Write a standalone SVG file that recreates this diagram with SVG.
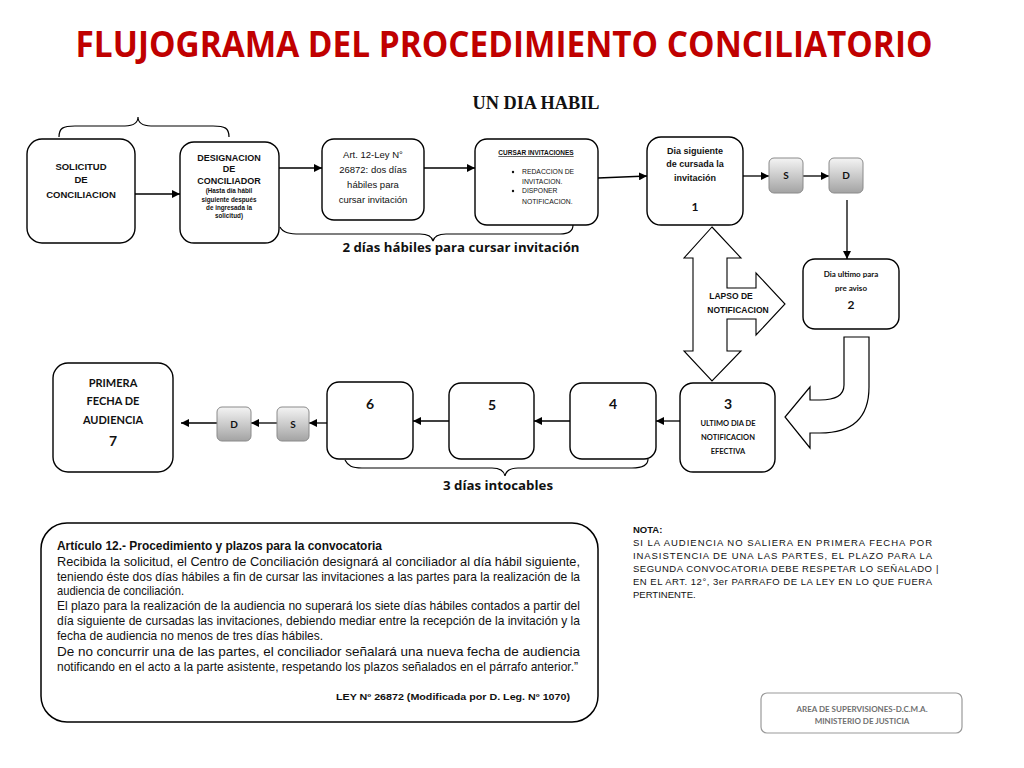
<svg xmlns="http://www.w3.org/2000/svg" width="1024" height="768" viewBox="0 0 1024 768">
<defs>
<style>
.bx{fill:#fff;stroke:#000;stroke-width:1.4}
.sd{fill:url(#g);stroke:#8a8a8a;stroke-width:1}
.ln{fill:none;stroke:#000;stroke-width:1.3}
.br{fill:none;stroke:#000;stroke-width:1.2}
.a{font-family:"Liberation Sans",Arial,sans-serif;font-weight:bold;fill:#111;text-anchor:middle}
.c{font-family:Lato,"Open Sans",sans-serif;font-weight:bold;fill:#111;text-anchor:middle}
.r{font-family:"Liberation Sans",Arial,sans-serif;fill:#111}
</style>
<linearGradient id="g" x1="0" y1="0" x2="0" y2="1"><stop offset="0" stop-color="#f4f4f4"/><stop offset="1" stop-color="#a3a3a3"/></linearGradient>
<marker id="ah" viewBox="0 0 10 10" refX="10" refY="5" markerWidth="8" markerHeight="8" markerUnits="userSpaceOnUse" orient="auto"><path d="M0,0 L10,5 L0,10 z" fill="#000"/></marker>
</defs>
<rect width="1024" height="768" fill="#fff"/>

<text x="504" y="57" text-anchor="middle" font-family="'Open Sans',sans-serif" font-weight="bold" font-size="35" fill="#C00000" textLength="857" lengthAdjust="spacingAndGlyphs">FLUJOGRAMA DEL PROCEDIMIENTO CONCILIATORIO</text>
<text x="536" y="109" text-anchor="middle" font-family="'Liberation Serif',serif" font-weight="bold" font-size="19" fill="#111" textLength="127" lengthAdjust="spacingAndGlyphs">UN DIA HABIL</text>

<g id="braces">
<path class="br" d="M59,137 C59,128 63,126 75,126 L125,126 C134,126 138,122 138,117 C138,122 142,126 151,126 L213,126 C225,126 229,128 229,137"/>
<path class="br" d="M280,227 C283,233 290,234 300,234 L420,234 C428,234 432,237 433,241 C434,237 438,234 446,234 L560,234 C570,234 573,230 573,225"/>
<path class="br" d="M345,460 C348,466 352,468 362,468 L492,468 C500,468 504,471 505,476 C506,471 510,468 518,468 L632,468 C642,468 648,465 648,459"/>
<text x="461" y="252" text-anchor="middle" font-family="'Open Sans',sans-serif" font-weight="bold" font-size="13" fill="#111" textLength="237" lengthAdjust="spacingAndGlyphs">2 días hábiles para cursar invitación</text>
<text x="498" y="490" text-anchor="middle" font-family="'Open Sans',sans-serif" font-weight="bold" font-size="13" fill="#111" textLength="110" lengthAdjust="spacingAndGlyphs">3 días intocables</text>
</g>

<g id="connectors">
<path class="ln" marker-end="url(#ah)" d="M135,194 L180,194"/>
<path class="ln" marker-end="url(#ah)" d="M279,168 L322,168"/>
<path class="ln" marker-end="url(#ah)" d="M424,168 L475,168"/>
<path class="ln" marker-end="url(#ah)" d="M598,178 L647,176"/>
<path class="ln" marker-end="url(#ah)" d="M743,176 L769,176"/>
<path class="ln" marker-end="url(#ah)" d="M803,176 L829,176"/>
<path class="ln" marker-end="url(#ah)" d="M847,200 L847,259"/>
<path class="ln" marker-end="url(#ah)" d="M680,421 L656,421"/>
<path class="ln" marker-end="url(#ah)" d="M570,421 L534,421"/>
<path class="ln" marker-end="url(#ah)" d="M449,421 L413,421"/>
<path class="ln" marker-end="url(#ah)" d="M327,423 L309,423"/>
<path class="ln" marker-end="url(#ah)" d="M277,423 L251,423"/>
<path class="ln" marker-end="url(#ah)" d="M217,423 L181,423"/>
</g>

<g id="n-solicitud">
<rect class="bx" x="27" y="139" width="108" height="104" rx="15"/>
<text class="a" font-size="9.5" x="81" y="170">SOLICITUD</text>
<text class="a" font-size="9.5" x="81" y="183">DE</text>
<text class="a" font-size="9.5" x="81" y="198">CONCILIACION</text>
</g>
<g id="n-designacion">
<rect class="bx" x="180" y="142" width="99" height="101" rx="14"/>
<text class="a" font-size="9" x="229" y="161">DESIGNACION</text>
<text class="a" font-size="9" x="229" y="172">DE</text>
<text class="a" font-size="9" x="229" y="184">CONCILIADOR</text>
<text class="a" font-size="6.3" x="229" y="193">(Hasta día hábil</text>
<text class="a" font-size="6.3" x="229" y="202">siguiente después</text>
<text class="a" font-size="6.3" x="229" y="210">de ingresada la</text>
<text class="a" font-size="6.3" x="229" y="218">solicitud)</text>
</g>
<g id="n-art12">
<rect class="bx" x="322" y="139" width="102" height="81" rx="12"/>
<text class="r" font-size="9.5" text-anchor="middle" x="373" y="158">Art. 12-Ley N°</text>
<text class="r" font-size="9.5" text-anchor="middle" x="373" y="173">26872: dos días</text>
<text class="r" font-size="9.5" text-anchor="middle" x="373" y="188">hábiles para</text>
<text class="r" font-size="9.5" text-anchor="middle" x="373" y="203">cursar invitación</text>
</g>
<g id="n-cursar">
<rect class="bx" x="475" y="139" width="123" height="86" rx="12"/>
<text class="a" font-size="6.5" x="536" y="155" text-decoration="underline">CURSAR INVITACIONES</text>
<circle cx="513" cy="172" r="1.2" fill="#111"/>
<text class="r" font-size="6.8" x="522" y="174">REDACCION DE</text>
<text class="r" font-size="6.8" x="522" y="184">INVITACION.</text>
<circle cx="513" cy="191" r="1.2" fill="#111"/>
<text class="r" font-size="6.8" x="522" y="193">DISPONER</text>
<text class="r" font-size="6.8" x="522" y="204">NOTIFICACION.</text>
</g>
<g id="n-1">
<rect class="bx" x="647" y="137" width="96" height="88" rx="14"/>
<text class="a" font-size="9" x="695" y="154">Dia siguiente</text>
<text class="a" font-size="9" x="695" y="167">de cursada la</text>
<text class="a" font-size="9" x="695" y="181">invitación</text>
<text class="c" font-size="12" x="695" y="211">1</text>
</g>
<g id="n-s1">
<rect class="sd" x="769" y="158" width="34" height="35" rx="5"/>
<text class="c" font-size="10" x="786" y="179">S</text>
</g>
<g id="n-d1">
<rect class="sd" x="829" y="158" width="34" height="35" rx="5"/>
<text class="c" font-size="10" x="846" y="179">D</text>
</g>
<g id="n-2">
<rect class="bx" x="803" y="259" width="96" height="70" rx="12"/>
<text class="c" font-size="8" x="851" y="277">Dia ultimo para</text>
<text class="c" font-size="8" x="851" y="291">pre aviso</text>
<text class="c" font-size="12" x="851" y="309">2</text>
</g>
<g id="n-lapso">
<path fill="#fff" stroke="#000" stroke-width="1.1" d="M712,227 L741,258 L727,258 L727,288 L756,288 L756,273 L785,304 L756,335 L756,319 L727,319 L727,351 L741,351 L712,381 L684,351 L693,351 L693,258 L684,258 Z"/>
<text class="a" font-size="8.5" x="731" y="299">LAPSO DE</text>
<text class="a" font-size="8.5" x="738" y="313">NOTIFICACION</text>
</g>
<g id="n-curve">
<path fill="#fff" stroke="#000" stroke-width="1.2" d="M844,337 L869,337 L869,387 Q869,433 820,433 L810,433 L810,448 L785,417 L810,387 L810,400 L820,400 Q844,400 844,385 Z"/>
</g>
<g id="n-3">
<rect class="bx" x="680" y="383" width="95" height="89" rx="13"/>
<text class="c" font-size="14" x="728" y="409">3</text>
<text class="c" font-size="7.5" x="728" y="426">ULTIMO DIA DE</text>
<text class="c" font-size="7.5" x="728" y="440">NOTIFICACION</text>
<text class="c" font-size="7.5" x="728" y="454">EFECTIVA</text>
</g>
<g id="n-4">
<rect class="bx" x="570" y="383" width="86" height="76" rx="12"/>
<text class="c" font-size="14" x="613" y="409">4</text>
</g>
<g id="n-5">
<rect class="bx" x="449" y="383" width="85" height="76" rx="12"/>
<text class="c" font-size="14" x="492" y="410">5</text>
</g>
<g id="n-6">
<rect class="bx" x="327" y="382" width="86" height="77" rx="12"/>
<text class="c" font-size="14" x="370" y="409">6</text>
</g>
<g id="n-s2">
<rect class="sd" x="277" y="407" width="32" height="34" rx="5"/>
<text class="c" font-size="10" x="293" y="428">S</text>
</g>
<g id="n-d2">
<rect class="sd" x="217" y="407" width="34" height="34" rx="5"/>
<text class="c" font-size="10" x="234" y="428">D</text>
</g>
<g id="n-7">
<rect class="bx" x="53" y="363" width="120" height="109" rx="15"/>
<text class="c" font-size="11" x="113" y="387">PRIMERA</text>
<text class="c" font-size="11" x="113" y="405">FECHA DE</text>
<text class="c" font-size="11" x="113" y="424">AUDIENCIA</text>
<text class="c" font-size="14" x="113" y="446">7</text>
</g>

<g id="n-articulo">
<rect x="41" y="523" width="557" height="199" rx="26" fill="#fff" stroke="#000" stroke-width="1.5"/>
<g class="r" font-size="13.5">
<text x="57" y="550" font-weight="bold" textLength="325" lengthAdjust="spacingAndGlyphs">Artículo 12.- Procedimiento y plazos para la convocatoria</text>
<text x="57" y="566" textLength="523" lengthAdjust="spacingAndGlyphs">Recibida la solicitud, el Centro de Conciliación designará al conciliador al día hábil siguiente,</text>
<text x="57" y="581" textLength="523" lengthAdjust="spacingAndGlyphs">teniendo éste dos días hábiles a fin de cursar las invitaciones a las partes para la realización de la</text>
<text x="57" y="595" textLength="127" lengthAdjust="spacingAndGlyphs">audiencia de conciliación.</text>
<text x="57" y="610" textLength="523" lengthAdjust="spacingAndGlyphs">El plazo para la realización de la audiencia no superará los siete días hábiles contados a partir del</text>
<text x="57" y="625" textLength="523" lengthAdjust="spacingAndGlyphs">día siguiente de cursadas las invitaciones, debiendo mediar entre la recepción de la invitación y la</text>
<text x="57" y="640" textLength="266" lengthAdjust="spacingAndGlyphs">fecha de audiencia no menos de tres días hábiles.</text>
<text x="57" y="656" textLength="523" lengthAdjust="spacing">De no concurrir una de las partes, el conciliador señalará una nueva fecha de audiencia</text>
<text x="57" y="671" textLength="521" lengthAdjust="spacingAndGlyphs">notificando en el acto a la parte asistente, respetando los plazos señalados en el párrafo anterior.”</text>
</g>
<text class="a" x="453" y="700" font-size="8.5" textLength="234" lengthAdjust="spacingAndGlyphs">LEY Nº 26872 (Modificada por D. Leg. Nº 1070)</text>
</g>

<g id="n-nota" class="r" font-size="9.5">
<text x="633" y="533" font-weight="bold">NOTA:</text>
<text x="633" y="546" textLength="299" lengthAdjust="spacing">SI LA AUDIENCIA NO SALIERA EN PRIMERA FECHA POR</text>
<text x="633" y="559" textLength="299" lengthAdjust="spacing">INASISTENCIA DE UNA LAS PARTES, EL PLAZO PARA LA</text>
<text x="633" y="572" textLength="299" lengthAdjust="spacing">SEGUNDA CONVOCATORIA DEBE RESPETAR LO SEÑALADO</text>
<text x="936" y="572">|</text>
<text x="633" y="585" textLength="299" lengthAdjust="spacing">EN EL ART. 12°, 3er PARRAFO DE LA LEY EN LO QUE FUERA</text>
<text x="633" y="598">PERTINENTE.</text>
</g>

<g id="n-footer">
<rect x="761" y="693" width="201" height="40" rx="6" fill="#fff" stroke="#9a9a9a" stroke-width="1.2"/>
<text class="c" font-size="8" x="862" y="712" style="fill:#6f6f6f">AREA DE SUPERVISIONES-D.C.M.A.</text>
<text class="c" font-size="8" x="862" y="724" style="fill:#6f6f6f">MINISTERIO DE JUSTICIA</text>
</g>
</svg>
